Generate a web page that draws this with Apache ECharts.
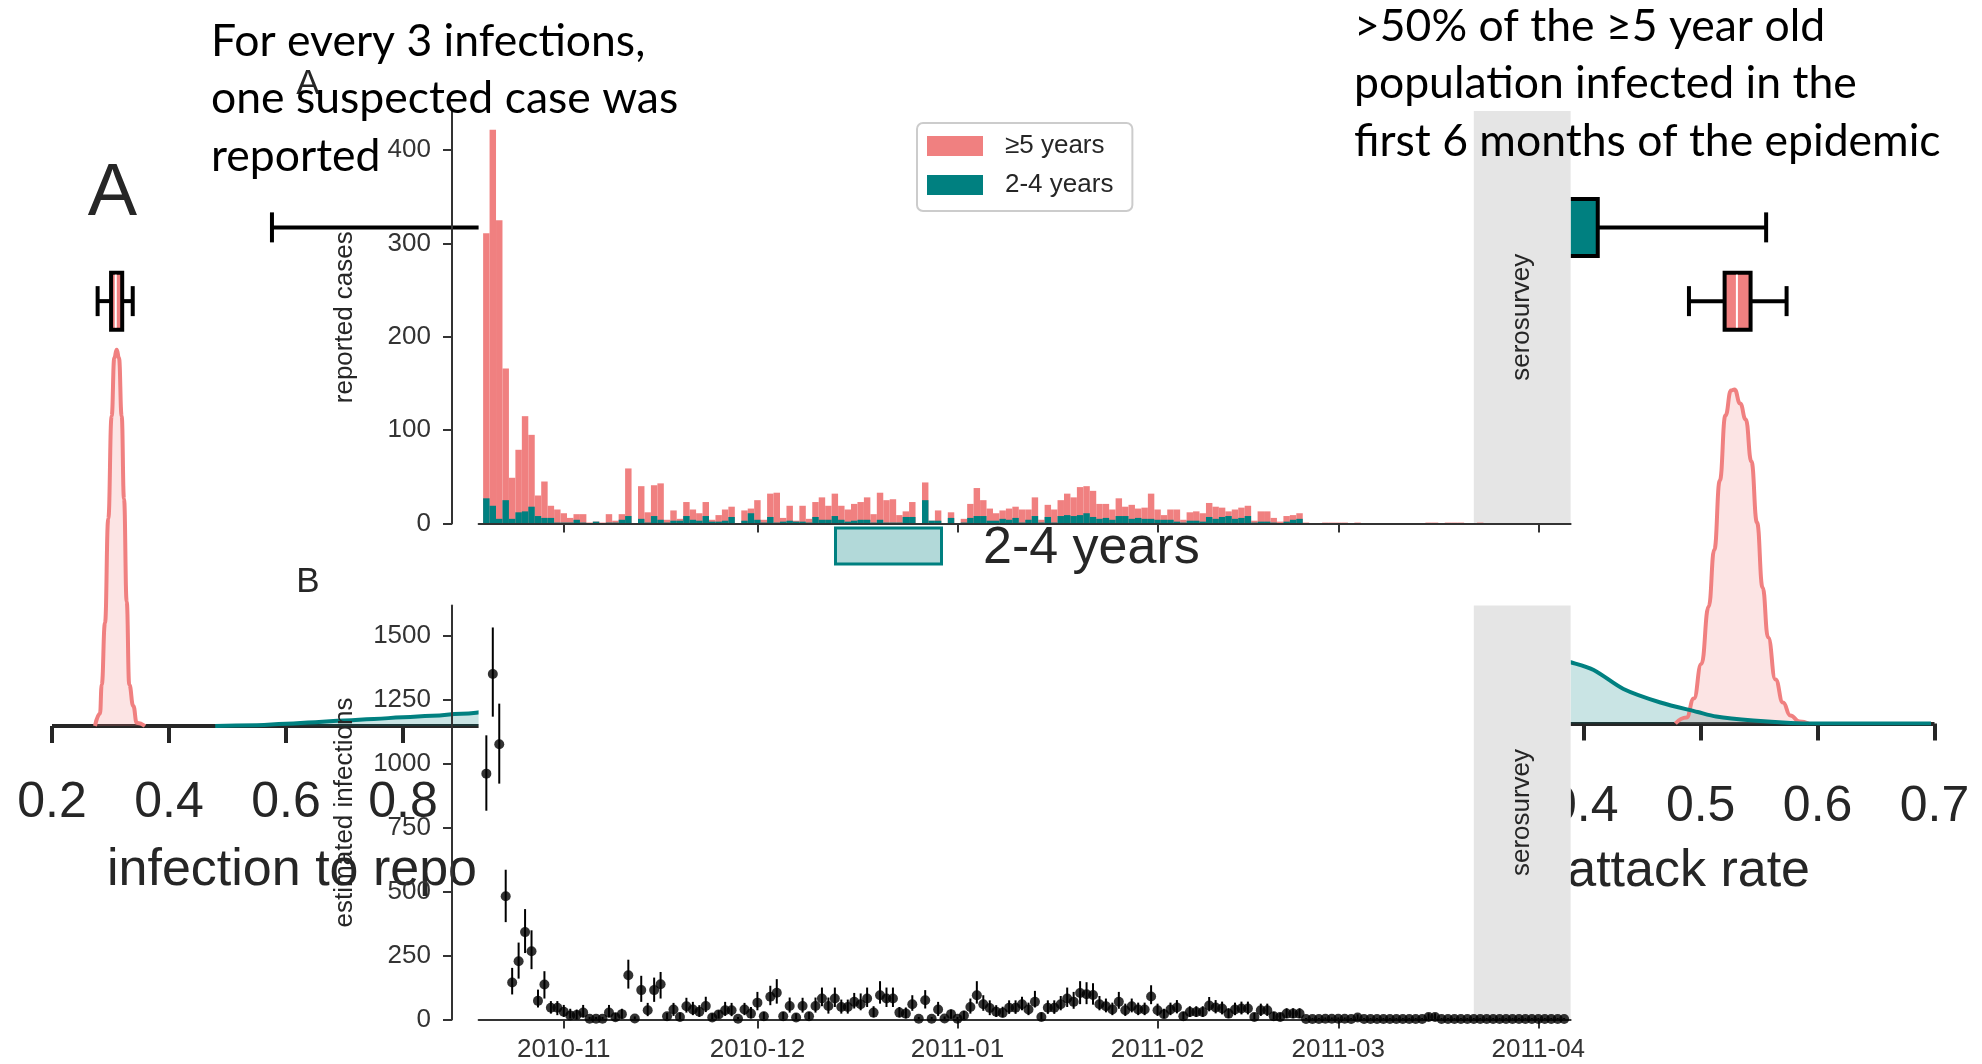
<!DOCTYPE html>
<html>
<head>
<meta charset="utf-8">
<script src="https://cdn.jsdelivr.net/npm/echarts@6/dist/echarts.min.js"></script>
<style>
html, body { margin: 0; padding: 0; background: #ffffff; }
#chart { width: 1982px; height: 1064px; }
</style>
</head>
<body>
<div id="chart"></div>
<script>
// ---------- daily surveillance data (one entry per day from firstDay) ----------
const firstDay = '2010-10-20';

// reported suspected cases, children aged 2-4 years
const cases2to4 = [
  27,19,5,25,5,12,13,18,8,6,
  6,1,1,1,4,1,0,2,0,1,
  1,4,8,0,5,1,8,4,1,3,
  3,8,4,3,8,2,2,3,7,0,
  3,11,4,1,7,1,2,3,2,2,
  1,7,4,4,8,4,2,3,4,4,
  1,4,1,1,1,7,7,0,25,3,
  3,0,6,0,1,6,8,8,3,3,
  5,4,6,1,4,8,1,7,1,8,
  9,8,9,11,7,5,6,4,8,8,
  5,6,5,5,4,4,4,2,1,3,
  3,2,7,5,7,8,5,6,8,1,
  2,2,1,0,2,4,5,0,0,0,
  0,0,0,0,0,0,0,0,0,0,
  0,0,0,0,0,0,0,0,0,0,
  0,0,0,0,0,0,0,0,0,0,
  0,0,0,0,0,0,0,0
];

// reported suspected cases, aged 5 years and over
const cases5plus = [
  284,403,320,141,44,67,102,77,22,39,
  13,14,10,5,6,9,1,0,1,9,
  2,6,51,0,35,11,33,39,3,11,
  2,15,11,8,15,2,7,12,11,0,
  11,5,21,3,25,32,4,16,1,17,
  4,16,24,15,24,15,13,18,19,24,
  9,29,24,25,8,6,16,0,19,0,
  11,0,6,0,4,15,30,17,13,8,
  9,12,12,14,11,20,3,13,14,17,
  23,20,30,29,28,16,15,11,19,10,
  15,10,12,27,11,5,11,13,3,9,
  10,9,15,13,10,5,10,11,11,2,
  11,11,5,2,6,5,6,1,0,0,
  1,1,1,1,0,1,0,0,0,0,
  0,0,0,0,0,0,1,1,0,1,
  1,1,0,0,1,0,0,0,0,0,
  0,0,0,0,0,0,0,0
];

// estimated daily infections with lower / upper interval
const infections = [
  962,1352,1077,482,145,228,342,267,73,137,
  46,46,30,16,18,27,3,3,3,27,
  9,21,173,4,115,36,115,138,13,39,
  10,52,39,30,53,8,20,36,36,3,
  39,23,66,13,89,105,13,53,8,53,
  13,53,82,53,82,49,49,69,60,82,
  27,95,82,82,27,23,60,3,75,3,
  39,4,21,3,16,49,95,60,45,30,
  26,46,46,60,39,69,10,46,46,60,
  82,69,104,99,96,60,52,39,69,36,
  52,39,39,90,36,21,39,47,13,29,
  29,29,55,47,43,23,39,43,43,10,
  36,36,13,10,23,23,23,2,2,2,
  3,3,3,3,2,8,2,2,2,2,
  2,2,2,2,2,2,10,10,2,2,
  2,2,2,2,2,2,2,2,2,2,
  2,2,2,2,2,2,2,2
];
const infectionsLow = [
  817,1185,923,381,98,160,260,197,47,82,
  23,17,10,4,0,8,0,0,0,8,
  0,3,121,0,69,13,69,82,0,14,
  0,27,17,10,29,0,4,14,13,0,
  17,4,36,0,56,62,0,27,0,27,
  0,27,52,23,49,23,23,43,36,49,
  8,62,49,49,8,4,34,0,43,0,
  14,0,3,0,0,23,62,34,17,10,
  8,22,22,36,17,47,0,22,22,36,
  49,42,60,60,58,36,28,17,42,14,
  28,17,17,60,14,5,17,24,0,10,
  10,10,32,24,20,5,17,20,20,0,
  14,14,0,0,5,5,5,0,0,0,
  0,0,0,0,0,0,0,0,0,0,
  0,0,0,0,0,0,0,0,0,0,
  0,0,0,0,0,0,0,0,0,0,
  0,0,0,0,0,0,0,0
];
const infectionsHigh = [
  1112,1534,1236,586,202,301,432,349,117,189,
  72,72,57,42,39,57,10,10,10,57,
  26,42,234,12,171,65,164,186,26,65,
  27,85,69,56,89,24,36,69,65,10,
  65,49,108,30,132,158,30,86,24,85,
  30,86,125,86,125,78,78,104,102,125,
  52,150,125,125,49,47,95,10,115,10,
  69,12,39,10,34,82,150,95,75,56,
  50,75,75,89,66,112,28,75,75,92,
  125,108,150,146,142,92,82,66,108,62,
  82,66,66,134,62,42,66,76,30,52,
  52,52,88,76,70,44,66,70,70,26,
  62,62,30,26,44,44,44,6,6,6,
  8,8,8,8,6,20,6,6,6,6,
  6,6,6,6,6,6,24,24,6,6,
  6,6,6,6,6,6,6,6,6,6,
  6,6,6,6,6,6,6,6
];

// date extent, month ticks and the serosurvey window
const timeRange = ['2010-10-18T19:12:00Z', '2011-04-06T00:00:00Z'];
const monthTicks = ['2010-11-01', '2010-12-01', '2011-01-01', '2011-02-01', '2011-03-01', '2011-04-01'];
const serosurvey = ['2011-03-22', '2011-04-06'];
const casesTicks = [0, 100, 200, 300, 400];
const infectionTicks = [0, 250, 500, 750, 1000, 1250, 1500];
const ageGroups = ['≥5 years', '2-4 years'];

// posterior densities: infection to report ratio
const ratioX5 = [0.2735, 0.282, 0.285, 0.2906, 0.2962, 0.302, 0.3065, 0.3106, 0.3145, 0.3191, 0.3231, 0.3277, 0.3321, 0.339, 0.3448, 0.359];
const ratioY5 = [0, 1.9, 6.4, 16, 32.2, 48.2, 57.2, 58.5, 57.2, 48.2, 35.3, 19.3, 6.4, 3.1, 0.5, 0];
const ratioX24 = [0.479, 0.55, 0.6, 0.65, 0.7, 0.75, 0.8, 0.85, 0.9, 0.95, 1.0];
const ratioY24 = [0, 0.1, 0.35, 0.6, 0.85, 1.1, 1.35, 1.6, 1.9, 2.25, 2.6];
// posterior densities: attack rate
const attackX5 = [0.4784, 0.4879, 0.4942, 0.5006, 0.5069, 0.5117, 0.5164, 0.5212, 0.526, 0.529, 0.5338, 0.5386, 0.5434, 0.5482, 0.553, 0.5577, 0.564, 0.5704, 0.5767, 0.5846, 0.5923];
const attackY5 = [0, 0.45, 1.87, 4.44, 8.74, 13.0, 18.16, 23.02, 24.89, 24.96, 23.92, 22.72, 19.58, 15.02, 10.16, 6.43, 3.29, 1.57, 0.6, 0.15, 0];
const attackX24 = [0.37, 0.3896, 0.4085, 0.434, 0.4656, 0.4974, 0.5133, 0.545, 0.577, 0.6, 0.697];
const attackY24 = [5.0, 4.56, 4.0, 2.58, 1.57, 0.86, 0.52, 0.22, 0.04, 0, 0];

// posterior summaries [low whisker, Q1, median, Q3, high whisker]
const ratioBox5 = [0.278, 0.301, 0.309, 0.320, 0.338];
const ratioBox24 = [0.576, 0.98, 1.2, 1.45, 2.1];
const attackBox5 = [0.490, 0.5205, 0.531, 0.5427, 0.5735];
const attackBox24 = [0.12, 0.24, 0.32, 0.412, 0.556];

// ---------- helpers ----------
const DAY = 86400000;
const t0 = Date.parse(firstDay + 'T00:00:00Z');
const dayOf = i => t0 + i * DAY;
const ts = s => Date.parse(s.length === 10 ? s + 'T00:00:00Z' : s);
const monthTickTs = monthTicks.map(ts);
const zip = (xs, ys) => xs.map((x, i) => [x, ys[i]]);

const PINK = '#F08080';
const TEAL = '#008080';
const INK = '#262626';
const AXIS = '#333333';
const SANS = '"Liberation Sans", Arial, sans-serif';
const SLIDE = 'Lato, "Open Sans", sans-serif';

const fmtMonth = v => {
  const d = new Date(v);
  return d.getUTCFullYear() + '-' + String(d.getUTCMonth() + 1).padStart(2, '0');
};

// ---------- axes of the two date panels (dates as UTC milliseconds) ----------
function dateAxis(gridIndex, showLabels) {
  return {
    type: 'value', gridIndex, min: ts(timeRange[0]), max: ts(timeRange[1]), z: 13,
    axisLine: { show: true, lineStyle: { color: AXIS, width: 2 } },
    axisTick: { show: true, customValues: monthTickTs, length: 9, lineStyle: { color: AXIS, width: 2 } },
    axisLabel: {
      show: showLabels, customValues: monthTickTs, formatter: fmtMonth,
      fontFamily: SANS, fontSize: 26, color: AXIS, margin: 17
    },
    splitLine: { show: false }
  };
}
function countAxis(gridIndex, max, ticks, name) {
  return {
    type: 'value', gridIndex, min: 0, max, offset: 26.6, z: 13,
    name, nameLocation: 'middle', nameGap: 94,
    nameTextStyle: { fontFamily: SANS, fontSize: 26, color: INK },
    axisLine: { show: true, lineStyle: { color: AXIS, width: 2 } },
    axisTick: { show: true, customValues: ticks, length: 9, lineStyle: { color: AXIS, width: 2 } },
    axisLabel: { customValues: ticks, formatter: v => String(v),
                 fontFamily: SANS, fontSize: 26, color: AXIS, margin: 21 },
    splitLine: { show: false }
  };
}
// axes of the posterior panels behind
function posteriorAxis(gridIndex, min, max, interval, offset) {
  return {
    type: 'value', gridIndex, min, max, interval, offset, z: 1,
    axisLine: { show: true, lineStyle: { color: INK, width: 4, cap: 'butt' } },
    axisTick: { show: true, length: 17, lineStyle: { color: INK, width: 4 } },
    axisLabel: { fontFamily: SANS, fontSize: 50, color: INK, margin: 36 },
    splitLine: { show: false }
  };
}
function hiddenAxis(gridIndex, type, extra) {
  return Object.assign({ type, gridIndex, show: false, splitLine: { show: false } }, extra);
}

const seroArea = {
  silent: true, z: 11,
  itemStyle: { color: '#e5e5e5' },
  label: { show: true, position: 'inside', rotate: 90, formatter: 'serosurvey',
           fontFamily: SANS, fontSize: 26, color: INK },
  data: [[{ xAxis: ts(serosurvey[0]) }, { xAxis: ts(serosurvey[1]) }]]
};

// box-and-whisker drawing for the posterior summaries
function boxRenderer(fills, medianColor) {
  return function (params, api) {
    const row = api.value(0);
    const at = v => api.coord([api.value(v), row]);
    const lo = at(1), q1 = at(2), md = at(3), q3 = at(4), hi = at(5);
    const y = lo[1], hb = 28.5, hc = 15;
    const edge = { stroke: '#000', lineWidth: 4 };
    return {
      type: 'group',
      children: [
        { type: 'line', shape: { x1: lo[0], y1: y, x2: q1[0], y2: y }, style: edge },
        { type: 'line', shape: { x1: q3[0], y1: y, x2: hi[0], y2: y }, style: edge },
        { type: 'line', shape: { x1: lo[0], y1: y - hc, x2: lo[0], y2: y + hc }, style: edge },
        { type: 'line', shape: { x1: hi[0], y1: y - hc, x2: hi[0], y2: y + hc }, style: edge },
        { type: 'rect', shape: { x: q1[0], y: y - hb, width: q3[0] - q1[0], height: 2 * hb },
          style: { fill: fills[row], stroke: '#000', lineWidth: 4 } },
        { type: 'line', shape: { x1: md[0], y1: y - hb + 2, x2: md[0], y2: y + hb - 2 },
          style: { stroke: medianColor, lineWidth: 2 } }
      ]
    };
  };
}

function density(name, xi, yi, xs, ys, color, fill, smooth, monotone) {
  return {
    name, type: 'line', xAxisIndex: xi, yAxisIndex: yi, data: zip(xs, ys),
    symbol: 'none', smooth, smoothMonotone: monotone, silent: true, z: 2,
    lineStyle: { color, width: 4 }, areaStyle: { color: fill, origin: 'start' }
  };
}

const chart = echarts.init(document.getElementById('chart'), null, { renderer: 'canvas' });
const days = cases2to4.map((_, i) => dayOf(i));
// top of each stacked day: the 2-4 years part sits under the ≥5 years part
const casesTotal = cases2to4.map((v, i) => v + cases5plus[i]);

chart.setOption({
  animation: false,
  backgroundColor: '#ffffff',
  grid: [
    // A: reported cases
    { left: 478.6, top: 111, width: 1092, height: 412.5, show: true, backgroundColor: '#ffffff', borderWidth: 0, z: 10 },
    // B: estimated infections
    { left: 478.6, top: 605.5, width: 1092, height: 414, show: true, backgroundColor: '#ffffff', borderWidth: 0, z: 10 },
    // posterior densities: infection to report ratio / attack rate
    { left: 52, top: 340, width: 468, height: 386, z: 0 },
    { left: 1466.8, top: 348.9, width: 467.7, height: 374.6, z: 0 },
    // posterior box summaries
    { left: 52, top: 190.5, width: 468, height: 147.5, z: 0 },
    { left: 1466.8, top: 190.5, width: 467.7, height: 147.5, z: 0 }
  ],
  xAxis: [
    dateAxis(0, false),
    dateAxis(1, true),
    posteriorAxis(2, 0.2, 1.0, 0.2, 16),
    posteriorAxis(3, 0.3, 0.7, 0.1, 22.5),
    hiddenAxis(4, 'value', { min: 0.2, max: 1.0 }),
    hiddenAxis(5, 'value', { min: 0.3, max: 0.7 })
  ],
  yAxis: [
    countAxis(0, 442, casesTicks, 'reported cases'),
    countAxis(1, 1620, infectionTicks, 'estimated infections'),
    hiddenAxis(2, 'value', { min: 0, max: 60 }),
    hiddenAxis(3, 'value', { min: 0, max: 28 }),
    hiddenAxis(4, 'category', { data: ageGroups }),
    hiddenAxis(5, 'category', { data: ageGroups })
  ],
  legend: {
    data: ['≥5 years', '2-4 years'],
    orient: 'vertical', left: 917, top: 123, z: 20,
    icon: 'rect', itemWidth: 56, itemHeight: 20, itemGap: 13,
    padding: [10, 19, 13, 10],
    backgroundColor: '#ffffff', borderColor: '#cccccc', borderWidth: 2, borderRadius: 6,
    textStyle: { fontFamily: SANS, fontSize: 26, lineHeight: 26, color: INK, padding: [0, 0, 0, 17] },
    selectedMode: false
  },
  graphic: [
    // labels of the posterior panels behind
    { type: 'text', z: 1, x: 112.5, y: 194.5, silent: true,
      style: { text: 'A', font: '74px ' + SANS, fill: INK, align: 'center', verticalAlign: 'middle' } },
    { type: 'text', z: 1, x: 107, y: 871, silent: true,
      style: { text: 'infection to report ratio', font: '52px ' + SANS, fill: INK, align: 'left', verticalAlign: 'middle' } },
    { type: 'text', z: 1, x: 1810, y: 872, silent: true,
      style: { text: 'attack rate', font: '52px ' + SANS, fill: INK, align: 'right', verticalAlign: 'middle' } },
    // legend of the posterior panels
    { type: 'rect', z: 1, silent: true, shape: { x: 835.5, y: 468, width: 106, height: 36 },
      style: { fill: 'rgba(240,128,128,0.3)', stroke: PINK, lineWidth: 3 } },
    { type: 'text', z: 1, x: 983, y: 486, silent: true,
      style: { text: '≥5 years', font: '52px ' + SANS, fill: INK, align: 'left', verticalAlign: 'middle' } },
    { type: 'rect', z: 1, silent: true, shape: { x: 835.5, y: 528, width: 106, height: 36 },
      style: { fill: 'rgba(0,128,128,0.3)', stroke: TEAL, lineWidth: 3 } },
    { type: 'text', z: 1, x: 983, y: 549, silent: true,
      style: { text: '2-4 years', font: '52px ' + SANS, fill: INK, align: 'left', verticalAlign: 'middle' } },
    // panel letters
    { type: 'text', z: 15, x: 308, y: 84, silent: true,
      style: { text: 'A', font: '35px ' + SANS, fill: INK, align: 'center', verticalAlign: 'middle' } },
    { type: 'text', z: 15, x: 308, y: 582, silent: true,
      style: { text: 'B', font: '35px ' + SANS, fill: INK, align: 'center', verticalAlign: 'middle' } },
    // slide annotations
    { type: 'text', z: 30, x: 211, y: 99, silent: true,
      style: { text: 'For every 3 infections,\none suspected case was\nreported', font: '44.5px ' + SLIDE,
               lineHeight: 57.5, fill: '#000', align: 'left', verticalAlign: 'middle' } },
    { type: 'text', z: 30, x: 1354, y: 84, silent: true,
      style: { text: '>50% of the ≥5 year old\npopulation infected in the\nfirst 6 months of the epidemic', font: '44.5px ' + SLIDE,
               lineHeight: 57.8, fill: '#000', align: 'left', verticalAlign: 'middle' } }
  ],
  series: [
    // panel A: daily reported cases, ≥5 years stacked on top of 2-4 years
    { name: '≥5 years', type: 'bar', xAxisIndex: 0, yAxisIndex: 0, z: 12,
      barCategoryGap: '0%', barGap: '-100%', itemStyle: { color: PINK }, silent: true,
      data: days.map((d, i) => [d, casesTotal[i]]), markArea: seroArea },
    { name: '2-4 years', type: 'bar', xAxisIndex: 0, yAxisIndex: 0, z: 12.5,
      barCategoryGap: '0%', barGap: '-100%', itemStyle: { color: TEAL }, silent: true,
      data: days.map((d, i) => [d, cases2to4[i]]) },
    // panel B: estimated infections with intervals
    { name: 'interval', type: 'custom', xAxisIndex: 1, yAxisIndex: 1, z: 13, silent: true,
      markArea: seroArea,
      data: days.map((d, i) => [d, infectionsLow[i], infectionsHigh[i]]),
      encode: { x: 0, y: [1, 2] },
      renderItem: (params, api) => {
        const a = api.coord([api.value(0), api.value(1)]);
        const b = api.coord([api.value(0), api.value(2)]);
        return { type: 'line', shape: { x1: a[0], y1: a[1], x2: b[0], y2: b[1] },
                 style: { stroke: '#000', lineWidth: 2 } };
      } },
    { name: 'estimate', type: 'scatter', xAxisIndex: 1, yAxisIndex: 1, z: 14, silent: true,
      symbolSize: 10, itemStyle: { color: '#000' },
      data: days.map((d, i) => [d, infections[i]]) },
    // posterior densities behind
    density('ratio ≥5', 2, 2, ratioX5, ratioY5, PINK, 'rgba(240,128,128,0.3)', true, 'x'),
    density('ratio 2-4', 2, 2, ratioX24, ratioY24, TEAL, 'rgba(0,128,128,0.3)', true, 'x'),
    density('attack ≥5', 3, 3, attackX5, attackY5, PINK, 'rgba(240,128,128,0.3)', true, 'x'),
    density('attack 2-4', 3, 3, attackX24, attackY24, TEAL, 'rgba(0,128,128,0.3)', 0.3, null),
    // posterior box summaries
    { name: 'ratio box', type: 'custom', xAxisIndex: 4, yAxisIndex: 4, z: 3, silent: true,
      data: [[0].concat(ratioBox5), [1].concat(ratioBox24)],
      encode: { x: [1, 2, 3, 4, 5], y: 0 },
      renderItem: boxRenderer([PINK, TEAL], '#ffffff') },
    { name: 'attack box', type: 'custom', xAxisIndex: 5, yAxisIndex: 5, z: 3, silent: true,
      data: [[0].concat(attackBox5), [1].concat(attackBox24)],
      encode: { x: [1, 2, 3, 4, 5], y: 0 },
      renderItem: boxRenderer([PINK, TEAL], '#ffffff') }
  ]
});
</script>
</body>
</html>
